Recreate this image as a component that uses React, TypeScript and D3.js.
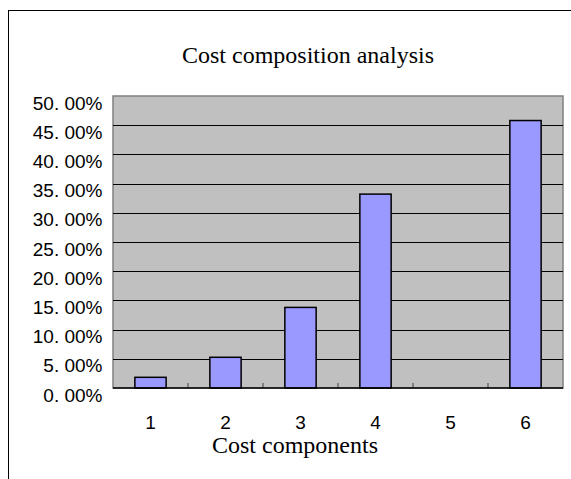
import React from "react";
import * as d3 from "d3";

const categories = ["1", "2", "3", "4", "5", "6"];
const values = [0.0183, 0.0526, 0.138, 0.332, 0, 0.458];
const yTicks = [0, 0.05, 0.1, 0.15, 0.2, 0.25, 0.3, 0.35, 0.4, 0.45, 0.5];
const title = "Cost composition analysis";
const xTitle = "Cost components";

const fmt = (v: number) => {
  const s = (v * 100).toFixed(2);
  const [a, b] = s.split(".");
  return `${a}. ${b}%`;
};

export default function App() {
  const left = 113, right = 563, top = 96, bottom = 388;
  const x = d3.scaleBand<string>().domain(categories).range([left, right]).paddingInner(0.583).paddingOuter(0.2915);
  const step = x.step();
  const y = d3.scaleLinear().domain([0, 0.5]).range([bottom, top]);
  const boundaries = d3.range(1, categories.length).map((i) => left + i * step);
  return (
    <svg width={571} height={479} style={{ position: "absolute", left: 0, top: 0 }}>
      <rect x={0} y={0} width={571} height={479} fill="#fff" />
      <rect x={8.5} y={10.5} width={640} height={500} fill="#fff" stroke="#000" strokeWidth={1} />
      <text x={308} y={63} textAnchor="middle" fontFamily="Liberation Serif, Times New Roman, serif" fontSize={24} fill="#000">{title}</text>
      <rect x={left} y={top} width={right - left} height={bottom - top} fill="#c0c0c0" stroke="#808080" strokeWidth={1.5} />
      {yTicks.slice(1, -1).map((t) => (
        <line key={t} x1={left} x2={right} y1={Math.round(y(t)) + 0.5} y2={Math.round(y(t)) + 0.5} stroke="#000" strokeWidth={1} />
      ))}
      {boundaries.map((bx) => (
        <line key={bx} x1={bx} x2={bx} y1={bottom} y2={bottom - 5} stroke="#404040" strokeWidth={1} />
      ))}
      {categories.map((c, i) => values[i] > 0 ? (
        <rect key={c} x={x(c)} y={y(values[i])} width={x.bandwidth()} height={bottom - y(values[i])} fill="#9999ff" stroke="#000" strokeWidth={1.5} />
      ) : null)}
      <line x1={left} x2={right} y1={bottom} y2={bottom} stroke="#000" strokeWidth={1.5} />
      {yTicks.map((t) => (
        <text key={t} x={102.5} y={y(t) + 13.5} textAnchor="end" fontFamily="Liberation Sans, Arial, sans-serif" fontSize={19} fill="#000">{fmt(t)}</text>
      ))}
      {categories.map((c) => (
        <text key={c} x={(x(c) as number) + x.bandwidth() / 2} y={429} textAnchor="middle" fontFamily="Liberation Sans, Arial, sans-serif" fontSize={19} fill="#000">{c}</text>
      ))}
      <text x={295} y={453} textAnchor="middle" fontFamily="Liberation Serif, Times New Roman, serif" fontSize={24} fill="#000">{xTitle}</text>
    </svg>
  );
}
